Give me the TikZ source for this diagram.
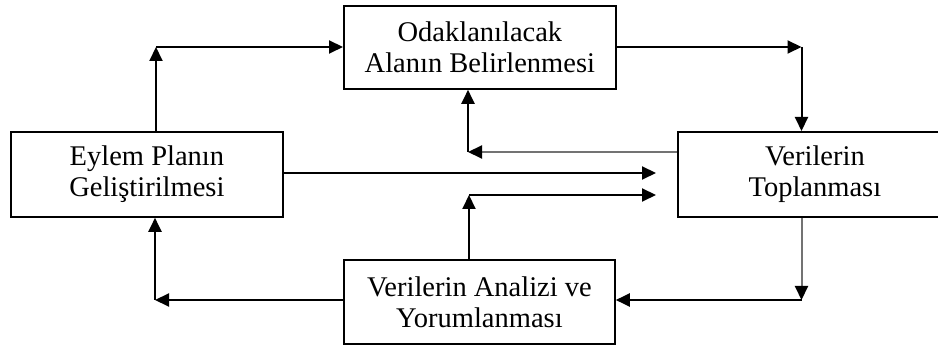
\documentclass[tikz,border=0pt]{standalone}
\usepackage{fontspec}
\setmainfont{Liberation Serif}
\usetikzlibrary{arrows.meta,calc}
\begin{document}
\begin{tikzpicture}[x=1pt,y=-1pt,
  box/.style={draw, line width=1.8pt, rectangle, anchor=north west, align=center,
    inner sep=0pt, font=\fontsize{28.5}{31}\selectfont},
  conn/.style={line width=2pt, -{Triangle[length=14pt,width=13pt,color=black]}},
  lconn/.style={conn, draw=black!55}]
\useasboundingbox (0,0) rectangle (938,347);
\node[box, minimum width=272pt, minimum height=83pt] (T) at (343,5) {Odaklanılacak\\Alanın Belirlenmesi};
\node[box, minimum width=272pt, minimum height=85pt] (L) at (10,131) {Eylem Planın\\Geliştirilmesi};
\node[box, minimum width=274pt, minimum height=85pt] (R) at (677,131) {Verilerin\\Toplanması};
\node[box, minimum width=271pt, minimum height=84pt] (B) at (343,259) {Verilerin Analizi ve\\Yorumlanması};
\coordinate (c1) at (156,47);
\coordinate (c2) at (801.5,47);
\coordinate (c3) at (468,152);
\coordinate (c4) at (469,195);
\coordinate (c5) at (801.5,300);
\coordinate (c6) at (155,300);
\coordinate (e1) at (656,173);
\coordinate (e2) at (656,195);
% Eylem -> Odaklanilacak
\draw[conn] (L.north -| c1) -- (c1);
\draw[conn] (c1) -- (T.west |- c1);
% Odaklanilacak -> Verilerin Toplanmasi
\draw[conn] (T.east |- c2) -- (c2);
\draw[conn] (c2) -- (R.north -| c2);
% Verilerin Toplanmasi -> Odaklanilacak
\draw[lconn] (R.west |- c3) -- (c3);
\draw[conn] (c3) -- (T.south -| c3);
% Eylem -> Verilerin
\draw[conn] (L.east |- e1) -- (e1);
% Analiz -> Verilerin
\draw[conn] (B.north -| c4) -- (c4);
\draw[conn] (c4) -- (e2);
% Verilerin -> Analiz
\draw[lconn] (R.south -| c5) -- (c5);
\draw[conn] (c5) -- (B.east |- c5);
% Analiz -> Eylem
\draw[conn] (B.west |- c6) -- (c6);
\draw[conn] (c6) -- (L.south -| c6);
\end{tikzpicture}
\end{document}
